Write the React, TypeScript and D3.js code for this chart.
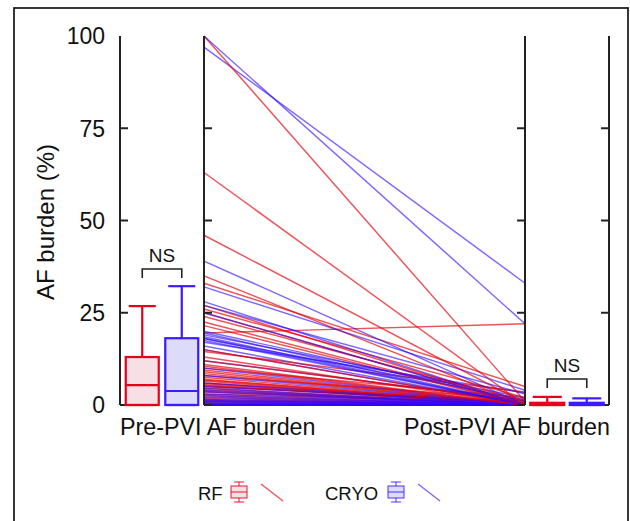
import React, { useEffect, useRef } from 'react';
import * as d3 from 'd3';

// Patient-level AF burden (%) before and after PVI
const rfPre = [100, 63, 46, 35, 33, 27, 26, 25, 24, 22.5, 21.5, 19.5, 15, 14.5, 13, 12, 11, 10.5, 10, 9.5, 9, 8.5, 8, 7.5, 7, 6.8, 6.5, 6, 5.8, 5.5, 5.3, 5, 4.6, 4.2, 3.8, 3.5, 3, 2.6, 2.2, 1.8, 1.5, 1.2, 0.9, 0.6, 0.3, 0, 0, 0, 0, 0, 0, 0, 0, 0, 0, 0, 0, 0, 0, 0];
const rfPost = [1, 0, 0.5, 0, 5, 0, 2, 0, 1, 0, 0, 22, 0, 3.5, 0, 1, 0, 0, 2, 0, 0, 0, 1.5, 0, 0, 0, 0, 0.5, 0, 0, 0, 1, 0, 0, 0, 0, 0.5, 0, 0, 0, 0, 0, 0, 0, 0, 0, 0, 0, 0, 0, 0, 0, 0, 0, 0, 0, 0, 0, 0, 0];
const cryoPre = [100, 97, 39, 32, 28, 27, 25, 20, 19.5, 19, 18.5, 18, 18, 17.5, 17, 16, 15, 12, 10, 8, 6, 5, 4.5, 4, 3.6, 3, 2.5, 2, 1.5, 1.2, 1, 0.8, 0.5, 0.3, 0.2, 0.1, 0, 0, 0, 0, 0, 0, 0, 0, 0, 0, 0, 0];
const cryoPost = [22, 33, 0, 4, 0, 3, 0, 1, 0, 2, 0, 0, 1.5, 0, 3.3, 0, 0, 1, 0, 0, 0, 0.5, 0, 0, 0, 0, 0, 0, 0, 0, 0, 0, 0, 0, 0, 0, 0, 0, 0, 0, 0, 0, 0, 0, 0, 0, 0, 0];

// Box plot summaries as drawn (min, q1, median, q3, max)
const groups = ['RF', 'CRYO'];
const preBoxes = [
  [0, 0, 5.4, 13, 26.8],
  [0, 0, 3.8, 18.1, 32.2],
];
const postBoxes = [
  [0, 0, 0, 0.6, 2.2],
  [0, 0, 0, 0.6, 1.8],
];

const yTicks = [0, 25, 50, 75, 100];
const panelLabels = ['Pre-PVI AF burden', 'Post-PVI AF burden'];

const App = () => {
  const ref = useRef(null);

  useEffect(() => {
    const width = 630;
    const height = 521;
    const font = '"Liberation Sans", Arial, Helvetica, sans-serif';
    const red = '#e5001c';
    const blue = '#3a1cff';
    const fills = ['#f6e0e5', '#dcdcfa'];
    const strokes = [red, blue];
    const lineColors = ['rgba(228, 0, 10, 0.68)', 'rgba(45, 10, 255, 0.62)'];

    d3.select(ref.current).select('svg').remove();

    const svg = d3
      .select(ref.current)
      .append('svg')
      .attr('width', width)
      .attr('height', height)
      .style('position', 'absolute')
      .style('left', 0)
      .style('top', 0)
      .style('font-family', font);

    // outer frame (runs off the bottom of the picture)
    svg
      .append('rect')
      .attr('x', 14)
      .attr('y', 8)
      .attr('width', 614)
      .attr('height', 540)
      .attr('fill', '#fff')
      .attr('stroke', '#222')
      .attr('stroke-width', 1.8);

    const y = d3.scaleLinear().domain([0, 100]).range([405, 36]);

    // the two box panels and the lines between them
    const prePanel = [120, 204];
    const postPanel = [525, 609];
    const xPre = d3.scalePoint().domain(groups).range(prePanel).padding(0.563);
    const xPost = d3.scalePoint().domain(groups).range(postPanel).padding(0.563);
    const xLine = d3.scalePoint().domain(['pre', 'post']).range([prePanel[1], postPanel[0]]);

    // patient lines, interleaving the two groups
    const pairs = [];
    const n = Math.max(rfPre.length, cryoPre.length);
    for (let i = n - 1; i >= 0; i--) {
      if (i < rfPre.length) pairs.push({ g: 0, pre: rfPre[i], post: rfPost[i] });
      if (i < cryoPre.length) pairs.push({ g: 1, pre: cryoPre[i], post: cryoPost[i] });
    }
    const line = d3
      .line()
      .x((d) => xLine(d[0]))
      .y((d) => y(d[1]));
    svg
      .append('g')
      .selectAll('path')
      .data(pairs)
      .enter()
      .append('path')
      .attr('d', (d) => line([['pre', d.pre], ['post', d.post]]))
      .attr('fill', 'none')
      .attr('stroke', (d) => lineColors[d.g])
      .attr('stroke-width', 1.45);

    // vertical axes
    const axes = [
      { x: prePanel[0], dir: 1 },
      { x: prePanel[1], dir: 1 },
      { x: postPanel[0], dir: -1 },
      { x: postPanel[1], dir: -1 },
    ];
    axes.forEach((a) => {
      const g = svg.append('g').attr('stroke', '#222').attr('stroke-width', 2);
      g.append('line').attr('x1', a.x).attr('x2', a.x).attr('y1', y(100)).attr('y2', y(0));
      yTicks
        .filter((t) => t < 100)
        .forEach((t) => {
          g.append('line')
            .attr('x1', a.x)
            .attr('x2', a.x + 8 * a.dir)
            .attr('y1', y(t))
            .attr('y2', y(t));
        });
    });

    // tick labels
    svg
      .append('g')
      .selectAll('text')
      .data(yTicks)
      .enter()
      .append('text')
      .attr('x', 105)
      .attr('y', (d) => y(d))
      .attr('dy', '0.36em')
      .attr('text-anchor', 'end')
      .attr('font-size', 23)
      .attr('fill', '#111')
      .text((d) => d);

    svg
      .append('text')
      .attr('transform', 'translate(45, 222) rotate(-90)')
      .attr('text-anchor', 'middle')
      .attr('dy', '0.36em')
      .attr('font-size', 24)
      .attr('fill', '#111')
      .text('AF burden (%)');

    // box plots
    const drawBoxes = (boxes, x, boxW, capW) => {
      boxes.forEach((b, i) => {
        const cx = x(groups[i]);
        const g = svg
          .append('g')
          .attr('stroke', strokes[i])
          .attr('stroke-width', 2.2)
          .attr('fill', 'none');
        g.append('rect')
          .attr('x', cx - boxW / 2)
          .attr('y', y(b[3]))
          .attr('width', boxW)
          .attr('height', Math.max(y(b[1]) - y(b[3]), 0.5))
          .attr('fill', fills[i]);
        g.append('line').attr('x1', cx - boxW / 2).attr('x2', cx + boxW / 2).attr('y1', y(b[2])).attr('y2', y(b[2]));
        g.append('line').attr('x1', cx).attr('x2', cx).attr('y1', y(b[3])).attr('y2', y(b[4]));
        g.append('line').attr('x1', cx - capW / 2).attr('x2', cx + capW / 2).attr('y1', y(b[4])).attr('y2', y(b[4]));
        g.append('line').attr('x1', cx - capW / 2).attr('x2', cx + capW / 2).attr('y1', y(b[0])).attr('y2', y(b[0]));
      });
    };
    drawBoxes(preBoxes, xPre, 33, 27);
    drawBoxes(postBoxes, xPost, 34, 29);

    // NS brackets
    const bracket = (x, top) => {
      const x1 = x(groups[0]);
      const x2 = x(groups[1]);
      svg
        .append('path')
        .attr('d', `M${x1},${top + 9}V${top}H${x2}V${top + 9}`)
        .attr('fill', 'none')
        .attr('stroke', '#222')
        .attr('stroke-width', 1.6);
      svg
        .append('text')
        .attr('x', (x1 + x2) / 2)
        .attr('y', top - 7)
        .attr('text-anchor', 'middle')
        .attr('font-size', 19)
        .attr('fill', '#111')
        .text('NS');
    };
    bracket(xPre, 269);
    bracket(xPost, 379);

    // panel labels
    svg
      .append('text')
      .attr('x', prePanel[0])
      .attr('y', 435)
      .attr('font-size', 23.3)
      .attr('fill', '#111')
      .text(panelLabels[0]);
    svg
      .append('text')
      .attr('x', postPanel[1] + 1)
      .attr('y', 435)
      .attr('text-anchor', 'end')
      .attr('font-size', 23.3)
      .attr('fill', '#111')
      .text(panelLabels[1]);

    // legend
    const legend = [
      { label: 'RF', x: 198, icon: 239, line: 261 },
      { label: 'CRYO', x: 325, icon: 396, line: 418 },
    ];
    legend.forEach((l, i) => {
      svg
        .append('text')
        .attr('x', l.x)
        .attr('y', 500)
        .attr('font-size', 18.5)
        .attr('fill', '#111')
        .text(l.label);
      const g = svg
        .append('g')
        .attr('stroke', strokes[i])
        .attr('stroke-opacity', 0.7)
        .attr('stroke-width', 1.3)
        .attr('fill', 'none');
      g.append('rect').attr('x', l.icon - 8).attr('y', 486).attr('width', 16).attr('height', 12).attr('fill', fills[i]);
      g.append('line').attr('x1', l.icon - 8).attr('x2', l.icon + 8).attr('y1', 492).attr('y2', 492);
      g.append('line').attr('x1', l.icon).attr('x2', l.icon).attr('y1', 482).attr('y2', 486);
      g.append('line').attr('x1', l.icon).attr('x2', l.icon).attr('y1', 498).attr('y2', 502);
      g.append('line').attr('x1', l.icon - 5).attr('x2', l.icon + 5).attr('y1', 482).attr('y2', 482);
      g.append('line').attr('x1', l.icon - 5).attr('x2', l.icon + 5).attr('y1', 502).attr('y2', 502);
      svg
        .append('line')
        .attr('x1', l.line)
        .attr('y1', 484)
        .attr('x2', l.line + 22)
        .attr('y2', 501)
        .attr('stroke', lineColors[i])
        .attr('stroke-width', 1.4);
    });
  }, []);

  return <div ref={ref} style={{ width: '630px', height: '521px' }}></div>;
};

export default App;
